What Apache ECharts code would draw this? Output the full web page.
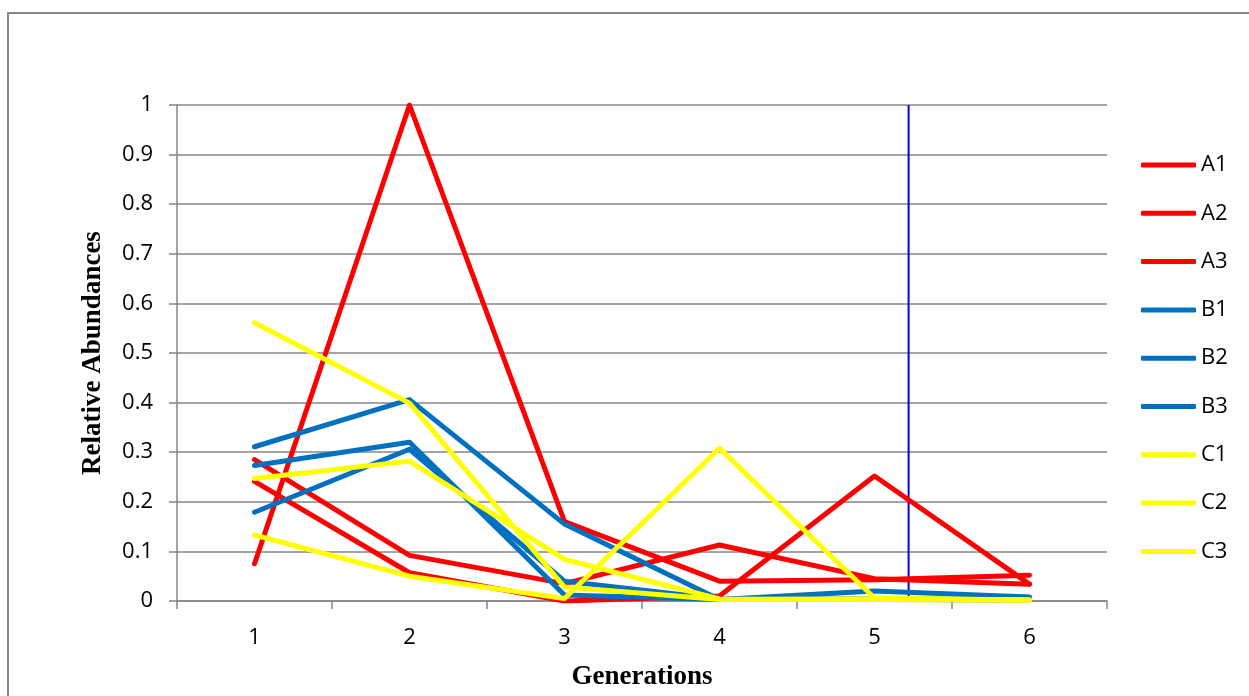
<!DOCTYPE html>
<html>
<head>
<meta charset="utf-8">
<script src="https://cdn.jsdelivr.net/npm/echarts@6/dist/echarts.min.js"></script>
<style>
html,body{margin:0;padding:0;background:#fff;}
#chart{width:1249px;height:696px;}
</style>
</head>
<body>
<div id="chart"></div>
<script>
// ---- data ----
var generations = ['1', '2', '3', '4', '5', '6'];
var yTicks = [0, 0.1, 0.2, 0.3, 0.4, 0.5, 0.6, 0.7, 0.8, 0.9, 1];
var A1 = [0.075, 1.0, 0.16, 0.04, 0.043, 0.052];
var A2 = [0.285, 0.092, 0.035, 0.113, 0.045, 0.034];
var A3 = [0.241, 0.057, 0.0, 0.01, 0.252, 0.034];
var B1 = [0.311, 0.406, 0.155, 0.003, 0.02, 0.008];
var B2 = [0.273, 0.320, 0.012, 0.003, 0.004, 0.003];
var B3 = [0.179, 0.306, 0.040, 0.004, 0.003, 0.002];
var C1 = [0.561, 0.399, 0.028, 0.003, 0.004, 0.002];
var C2 = [0.247, 0.282, 0.084, 0.004, 0.003, 0.002];
var C3 = [0.133, 0.050, 0.005, 0.308, 0.006, 0.002];
var seriesNames = ['A1', 'A2', 'A3', 'B1', 'B2', 'B3', 'C1', 'C2', 'C3'];
var seriesData = [A1, A2, A3, B1, B2, B3, C1, C2, C3];
var seriesColors = ['#FF0000', '#FF0000', '#FF0000', '#0070C0', '#0070C0', '#0070C0', '#FFFF00', '#FFFF00', '#FFFF00'];
var markerX = 5.22; // vertical blue marker position (generation units)

var labelFont = 'Open Sans';
var gray = '#868686';

var series = seriesNames.map(function (n, i) {
  return {
    name: n,
    type: 'line',
    xAxisIndex: 0,
    yAxisIndex: 0,
    data: seriesData[i],
    symbol: 'none',
    showSymbol: false,
    smooth: false,
    color: seriesColors[i],
    lineStyle: { color: seriesColors[i], width: 5, cap: 'round', join: 'round' },
    animation: false
  };
});
series.push({
  name: 'marker',
  type: 'line',
  xAxisIndex: 1,
  yAxisIndex: 0,
  data: [[markerX, 0], [markerX, 1]],
  symbol: 'none',
  lineStyle: { color: '#0000FF', width: 2 },
  animation: false,
  silent: true,
  z: 1
});

var chart = echarts.init(document.getElementById('chart'), null, { renderer: 'canvas' });
chart.setOption({
  backgroundColor: '#ffffff',
  animation: false,
  graphic: [{
    type: 'rect',
    shape: { x: 8, y: 13, width: 1400, height: 900 },
    style: { fill: 'none', stroke: gray, lineWidth: 2 },
    silent: true
  }],
  grid: { left: 177, right: 142, top: 105, bottom: 91, containLabel: false },
  legend: {
    orient: 'vertical',
    left: 1136,
    top: 149,
    itemWidth: 55,
    itemHeight: 5,
    itemGap: 26.3,
    icon: 'roundRect',
    data: seriesNames,
    textStyle: { fontFamily: labelFont, fontSize: 22, color: '#000' }
  },
  xAxis: [{
    type: 'category',
    data: generations,
    boundaryGap: true,
    name: 'Generations',
    nameLocation: 'middle',
    nameGap: 63,
    nameTextStyle: { fontFamily: 'Liberation Serif', fontWeight: 'bold', fontSize: 27, color: '#000' },
    axisLine: { show: true, lineStyle: { color: gray, width: 1.5 } },
    axisTick: { show: true, length: 8, lineStyle: { color: gray, width: 1.5 } },
    axisLabel: { fontFamily: labelFont, fontSize: 22, color: '#000', margin: 26 },
    splitLine: { show: false }
  }, {
    type: 'value',
    min: 0.5,
    max: 6.5,
    show: false,
    position: 'bottom'
  }],
  yAxis: [{
    type: 'value',
    min: 0,
    max: 1,
    interval: 0.1,
    name: 'Relative Abundances',
    nameLocation: 'middle',
    nameGap: 70,
    nameTextStyle: { fontFamily: 'Liberation Serif', fontWeight: 'bold', fontSize: 27, color: '#000' },
    axisLine: { show: true, lineStyle: { color: gray, width: 1.5 } },
    axisTick: { show: true, length: 8, lineStyle: { color: gray, width: 1.5 } },
    axisLabel: {
      fontFamily: labelFont, fontSize: 22, color: '#000', margin: 24,
      formatter: function (v) { return String(Math.round(v * 10) / 10); }
    },
    splitLine: { show: true, lineStyle: { color: gray, width: 1.5 } }
  }],
  series: series
});
</script>
</body>
</html>
